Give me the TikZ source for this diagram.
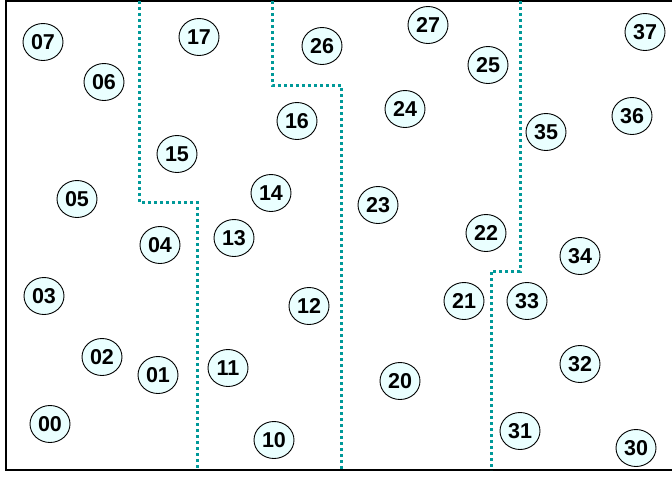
\documentclass[tikz,border=0pt]{standalone}
\usepackage{xcolor}
\usepackage{fontspec}
\setmainfont{Liberation Sans}
\usepackage{tikz}
\usetikzlibrary{shapes.geometric}
\definecolor{sitefill}{HTML}{EAFFFF}
\definecolor{bordercol}{HTML}{009999}

\begin{document}
\begin{tikzpicture}[
  x=1pt, y=-1pt,
  site/.style={draw, ellipse, fill=sitefill, line width=0.9pt, minimum width=40pt, minimum height=37pt, inner sep=0pt, font=\fontsize{21.5}{21.5}\selectfont\bfseries},
  cut/.style={draw=bordercol, line width=3pt, dash pattern=on 3pt off 3pt}
]
\useasboundingbox (0,0) rectangle (672,477);
\draw[line width=2pt] (6,1) rectangle (676,470);

% region boundaries
\draw[cut] (139,1) |- (197,202) -- (197,470);
\draw[cut] (272,1) |- (341,85) -- (341,470);
\draw[cut] (520,1) |- (491,271) -- (491,470);

% sites
\node[site] (n00) at (50,424) {00};
\node[site] (n01) at (158,375) {01};
\node[site] (n02) at (102,357) {02};
\node[site] (n03) at (44,296) {03};
\node[site] (n04) at (160,245) {04};
\node[site] (n05) at (77,199) {05};
\node[site] (n06) at (104,82) {06};
\node[site] (n07) at (43,42) {07};

\node[site] (n10) at (274,440) {10};
\node[site] (n11) at (228,368) {11};
\node[site] (n12) at (309,306) {12};
\node[site] (n13) at (234,238) {13};
\node[site] (n14) at (271,193) {14};
\node[site] (n15) at (177,154) {15};
\node[site] (n16) at (297,121) {16};
\node[site] (n17) at (199,37) {17};

\node[site] (n20) at (400,381) {20};
\node[site] (n21) at (464,301) {21};
\node[site] (n22) at (486,233) {22};
\node[site] (n23) at (378,205) {23};
\node[site] (n24) at (405,109) {24};
\node[site] (n25) at (488,65) {25};
\node[site] (n26) at (322,46) {26};
\node[site] (n27) at (428,25) {27};

\node[site] (n30) at (636,448) {30};
\node[site] (n31) at (520,431) {31};
\node[site] (n32) at (580,364) {32};
\node[site] (n33) at (527,301) {33};
\node[site] (n34) at (580,256) {34};
\node[site] (n35) at (546,132) {35};
\node[site] (n36) at (632,116) {36};
\node[site] (n37) at (645,32) {37};
\end{tikzpicture}
\end{document}
